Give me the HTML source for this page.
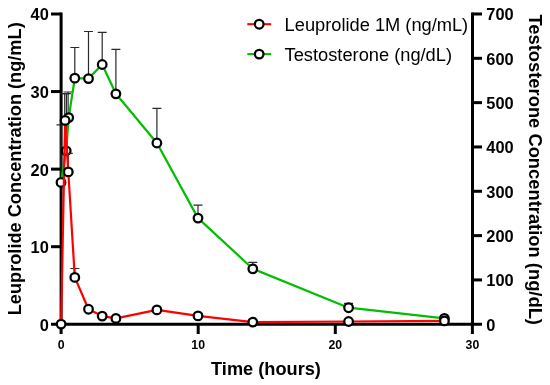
<!DOCTYPE html>
<html><head><meta charset="utf-8"><style>
html,body{margin:0;padding:0;background:#fff;}
svg{display:block;}
text{font-family:"Liberation Sans",Arial,sans-serif;}
</style></head><body>
<svg width="550" height="385" viewBox="0 0 550 385">
<rect width="550" height="385" fill="#fff"/>
<g stroke="#000" stroke-width="3.0" fill="none" stroke-linecap="butt"><path d="M61.1 12.5V325.75M59.6 324.25H474.0M472.5 12.5V325.75"/><path d="M51 324.25H61.1"/><path d="M51 246.69H61.1"/><path d="M51 169.12H61.1"/><path d="M51 91.56H61.1"/><path d="M51 14.00H61.1"/><path d="M472.5 324.25H482"/><path d="M472.5 279.93H482"/><path d="M472.5 235.61H482"/><path d="M472.5 191.29H482"/><path d="M472.5 146.96H482"/><path d="M472.5 102.64H482"/><path d="M472.5 58.32H482"/><path d="M472.5 14.00H482"/><path d="M61.10 324.25V334"/><path d="M198.20 324.25V334"/><path d="M335.30 324.25V334"/><path d="M472.40 324.25V334"/></g>
<g font-weight="bold" font-size="16.4" fill="#000"><text x="48.8" y="330.65" text-anchor="end">0</text><text x="48.8" y="253.09" text-anchor="end">10</text><text x="48.8" y="175.53" text-anchor="end">20</text><text x="48.8" y="97.96" text-anchor="end">30</text><text x="48.8" y="20.40" text-anchor="end">40</text><text x="486.3" y="330.55">0</text><text x="486.3" y="286.23">100</text><text x="486.3" y="241.91">200</text><text x="486.3" y="197.59">300</text><text x="486.3" y="153.26">400</text><text x="486.3" y="108.94">500</text><text x="486.3" y="64.62">600</text><text x="486.3" y="20.30">700</text></g>
<g font-weight="bold" font-size="12.3" fill="#000"><text x="61.10" y="348.7" text-anchor="middle">0</text><text x="198.20" y="348.7" text-anchor="middle">10</text><text x="335.30" y="348.7" text-anchor="middle">20</text><text x="472.40" y="348.7" text-anchor="middle">30</text></g>
<text x="266" y="374.5" font-weight="bold" font-size="18.2" text-anchor="middle">Time (hours)</text>
<text transform="translate(21,168.8) rotate(-90)" font-weight="bold" font-size="18.2" text-anchor="middle">Leuprolide Concentration (ng/mL)</text>
<text transform="translate(529,169.7) rotate(90)" font-weight="bold" font-size="18.35" text-anchor="middle">Testosterone Concentration (ng/dL)</text>
<!-- green series -->
<g stroke="#2a2a2a" stroke-width="1.2" fill="none"><path d="M61.0 182.4V124.9M56.5 124.9H65.5"/><path d="M66.4 150.9V93.6M61.9 93.6H70.9"/><path d="M68.1 117.6V92.0M63.6 92.0H72.6"/><path d="M74.8 78.2V47.5M70.3 47.5H79.3"/><path d="M88.5 78.6V31.5M84.0 31.5H93.0"/><path d="M102.2 64.5V32.3M97.7 32.3H106.7"/><path d="M115.9 93.8V49.3M111.4 49.3H120.4"/><path d="M156.9 143.0V108.3M152.4 108.3H161.4"/><path d="M198.0 218.1V205.2M193.5 205.2H202.5"/><path d="M252.8 268.8V262.3M248.3 262.3H257.3"/><path d="M348.6 307.7V303.3M344.1 303.3H353.1"/></g>
<polyline points="61.0,182.4 66.2,150.9 68.7,117.6 74.8,78.2 88.5,78.6 102.2,64.5 115.9,93.8 156.9,143.0 198.0,218.1 252.8,268.8 348.6,307.7 444.4,318.3" fill="none" stroke="#00BE00" stroke-width="2.2" stroke-linejoin="round"/>
<g fill="#fff" stroke="#000" stroke-width="2.25"><circle cx="61.0" cy="182.4" r="4.3"/><circle cx="66.2" cy="150.9" r="4.3"/><circle cx="68.7" cy="117.6" r="4.3"/><circle cx="74.8" cy="78.2" r="4.3"/><circle cx="88.5" cy="78.6" r="4.3"/><circle cx="102.2" cy="64.5" r="4.3"/><circle cx="115.9" cy="93.8" r="4.3"/><circle cx="156.9" cy="143.0" r="4.3"/><circle cx="198.0" cy="218.1" r="4.3"/><circle cx="252.8" cy="268.8" r="4.3"/><circle cx="348.6" cy="307.7" r="4.3"/><circle cx="444.4" cy="318.3" r="4.3"/></g>
<!-- red series -->
<g stroke="#2a2a2a" stroke-width="1.2" fill="none"><path d="M64.7 120.4V93.6M60.2 93.6H69.2"/><path d="M68.3 171.9V153.3M63.8 153.3H72.8"/><path d="M74.8 277.4V268.5M70.3 268.5H79.3"/></g>
<polyline points="61.1,324.1 65.1,120.4 68.3,171.9 74.8,277.4 88.5,309.2 102.2,316.1 115.9,318.4 156.9,309.9 198.0,315.9 252.8,322.1 348.6,321.5 444.4,320.9" fill="none" stroke="#FF0000" stroke-width="2.2" stroke-linejoin="round"/>
<g fill="#fff" stroke="#000" stroke-width="2.25"><circle cx="61.1" cy="324.1" r="4.3"/><circle cx="65.1" cy="120.4" r="4.3"/><circle cx="68.3" cy="171.9" r="4.3"/><circle cx="74.8" cy="277.4" r="4.3"/><circle cx="88.5" cy="309.2" r="4.3"/><circle cx="102.2" cy="316.1" r="4.3"/><circle cx="115.9" cy="318.4" r="4.3"/><circle cx="156.9" cy="309.9" r="4.3"/><circle cx="198.0" cy="315.9" r="4.3"/><circle cx="252.8" cy="322.1" r="4.3"/><circle cx="348.6" cy="321.5" r="4.3"/><circle cx="444.4" cy="320.9" r="4.3"/></g>
<!-- legend -->
<path d="M247.3 24.2H271.2" stroke="#FF0000" stroke-width="2.1"/>
<circle cx="259.2" cy="24.2" r="4.3" fill="#fff" stroke="#000" stroke-width="2.25"/>
<path d="M247.3 54.1H271.2" stroke="#00BE00" stroke-width="2.1"/>
<circle cx="259.2" cy="54.1" r="4.3" fill="#fff" stroke="#000" stroke-width="2.25"/>
<g font-size="18.25" fill="#000">
<text x="284.6" y="31.2">Leuprolide 1M (ng/mL)</text>
<text x="284.6" y="60.8">Testosterone (ng/dL)</text>
</g>
</svg>
</body></html>
